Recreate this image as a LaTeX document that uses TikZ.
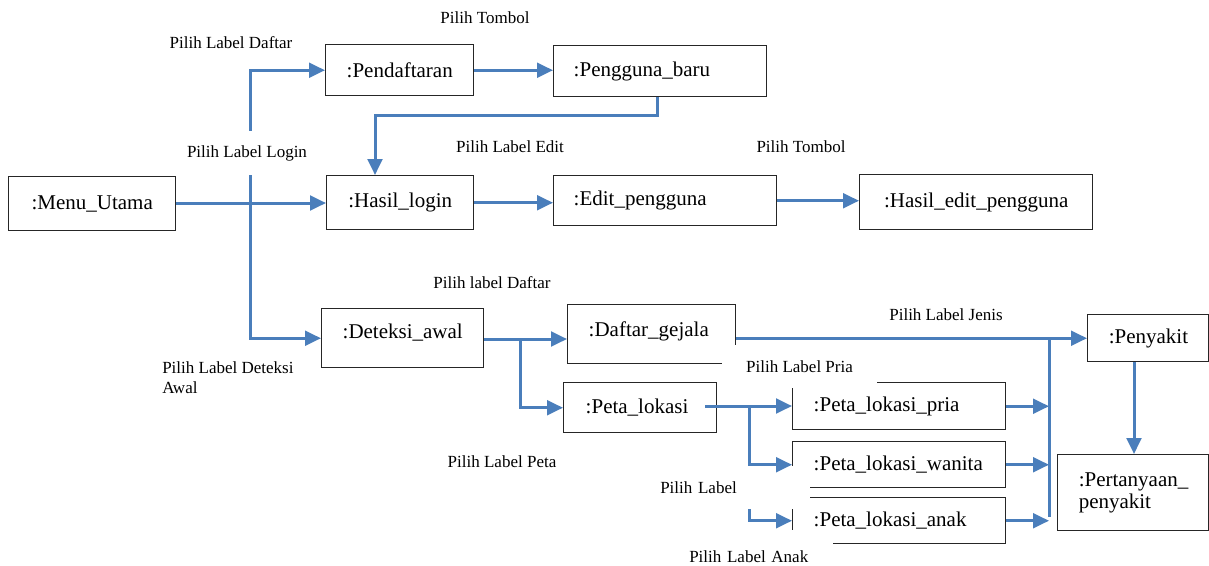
\documentclass[tikz,border=0pt]{standalone}
\usepackage{fontspec}
\setmainfont{Liberation Serif}
\usetikzlibrary{arrows.meta}
\definecolor{lnblue}{HTML}{4A7EBB}
\definecolor{bxline}{HTML}{262626}
\begin{document}
\begin{tikzpicture}[x=0.75pt,y=-0.75pt,
  box/.style={draw=bxline,line width=1.1pt,anchor=north west,inner ysep=0pt,font=\fontsize{15.75pt}{16pt}\selectfont},
  cbox/.style={box,align=center,inner xsep=0pt},
  lbox/.style={box,align=left,inner xsep=15.75pt},
  conn/.style={draw=lnblue,line width=2.25pt,-{Triangle[length=12pt,width=11pt]}},
  wire/.style={draw=lnblue,line width=2.25pt},
  lbl/.style={font=\fontsize{12.75pt}{15pt}\selectfont,inner sep=0pt,align=center},
  wlbl/.style={lbl,fill=white}]
\useasboundingbox (0,0) rectangle (1209,565);

% boxes
\node[cbox,minimum width=125.25pt,minimum height=40.5pt] (menu) at (8,176) {:Menu\_Utama};
\node[cbox,minimum width=111pt,minimum height=38.25pt] (pend) at (325,44) {:Pendaftaran};
\node[lbox,inner xsep=15pt,text width=129.75pt,minimum height=38.25pt] (pbaru) at (553,45) {:Pengguna\_baru};
\node[cbox,minimum width=110.25pt,minimum height=40.5pt] (hasil) at (326,175) {:Hasil\_login};
\node[lbox,inner xsep=15pt,text width=137.25pt,minimum height=37.5pt] (edit) at (553,175) {:Edit\_pengguna};
\node[cbox,minimum width=174.75pt,minimum height=41.25pt] (hedit) at (859,174) {:Hasil\_edit\_pengguna};
\node[cbox,minimum width=121.5pt,text height=22.5pt,text depth=21.75pt] (det) at (321,308) {:Deteksi\_awal};
\node[lbox,text width=94.5pt,text height=24pt,text depth=20.25pt] (gej) at (567,304) {:Daftar\_gejala};
\node[lbox,inner xsep=16.5pt,text width=81.75pt,minimum height=37.5pt] (peta) at (563,382) {:Peta\_lokasi};
\node[lbox,text width=128.25pt,minimum height=35.25pt] (pria) at (792,382) {:Peta\_lokasi\_pria};
\node[lbox,text width=128.25pt,minimum height=34.5pt] (wanita) at (792,441) {:Peta\_lokasi\_wanita};
\node[lbox,text width=128.25pt,minimum height=34.5pt] (anak) at (792,497) {:Peta\_lokasi\_anak};
\node[lbox,text width=59.25pt,minimum height=35.25pt] (peny) at (1087,314) {:Penyakit};
\node[lbox,text width=81.75pt,minimum height=57pt] (tanya) at (1057,454) {:Pertanyaan\_\\penyakit};

% labels (white text boxes, as in the original, partly covering borders)
\node[lbl] (lDaftar) at (231,43) {Pilih Label Daftar};
\node[lbl] (lTombol1) at (485,18) {Pilih Tombol};
\node[lbl] (lEdit) at (510,147) {Pilih Label Edit};
\node[lbl] (lTombol2) at (801,147) {Pilih Tombol};
\node[lbl] (lDaftar2) at (492,283) {Pilih label Daftar};
\node[lbl,align=left,anchor=west] (lDeteksi) at (162,378) {Pilih Label Deteksi\\Awal};
\node[lbl] (lJenis) at (946,315) {Pilih Label Jenis};
\node[wlbl,minimum width=116.25pt,minimum height=32.25pt] (lPria) at (799.5,366.5) {Pilih Label Pria};
\node[lbl] (lPeta) at (502,462) {Pilih Label Peta};
\node[wlbl,anchor=north west,align=left,inner xsep=3.75pt,text width=108.75pt,minimum height=32pt] (lLabel) at (655,466) {Pilih Label};
\node[wlbl,anchor=north west,align=left,inner xsep=6.75pt,text width=101.25pt,minimum height=39pt] (lAnak) at (680,530) {Pilih Label Anak};

% helper coordinates
\coordinate (jm) at (250,203);
\coordinate (b1) at (657,115);
\coordinate (b2) at (375,115);
\coordinate (dj) at (520,339);
\coordinate (pe) at (705,406);
\coordinate (pj) at (749,406);
\coordinate (aj) at (749,509);
\coordinate (vt) at (1049,338);
\coordinate (vb) at (1049,517);
\coordinate (px) at (1134,0);

% connectors
\draw[conn] (menu.east |- jm) -- (jm -| hasil.west);
\draw[conn] (jm) |- (pend.west);
\draw[conn] (jm) |- (det.west);
\draw[conn] (pend.east) -- (pend.east -| pbaru.west);
\draw[conn] (pbaru.south -| b1) -- (b1) -- (b2) -- (b2 |- hasil.north);
\draw[conn] (hasil.east) -- (hasil.east -| edit.west);
\draw[conn] (edit.east) -- (edit.east -| hedit.west);
\draw[conn] (det.east |- dj) -- (dj -| gej.west);
\draw[conn] (dj) |- (peta.west);
\draw[conn] (peny.west -| gej.east) -- (peny.west);
\draw[conn] (pe) -- (pe -| pria.west);
\draw[conn] (pj) |- (wanita.west);
\draw[conn] (aj) |- (anak.west);
\draw[wire] (vt |- peny.west) -- (vb);
\draw[conn] (pria.east) -- (pria.east -| vt);
\draw[conn] (wanita.east) -- (wanita.east -| vt);
\draw[conn] (anak.east) -- (anak.east -| vt);
\draw[conn] (peny.south -| px) -- (tanya.north -| px);

% label that interrupts the vertical connector
\node[wlbl,minimum height=33pt] (lLogin) at (247,153) {Pilih Label Login};
\end{tikzpicture}
\end{document}
